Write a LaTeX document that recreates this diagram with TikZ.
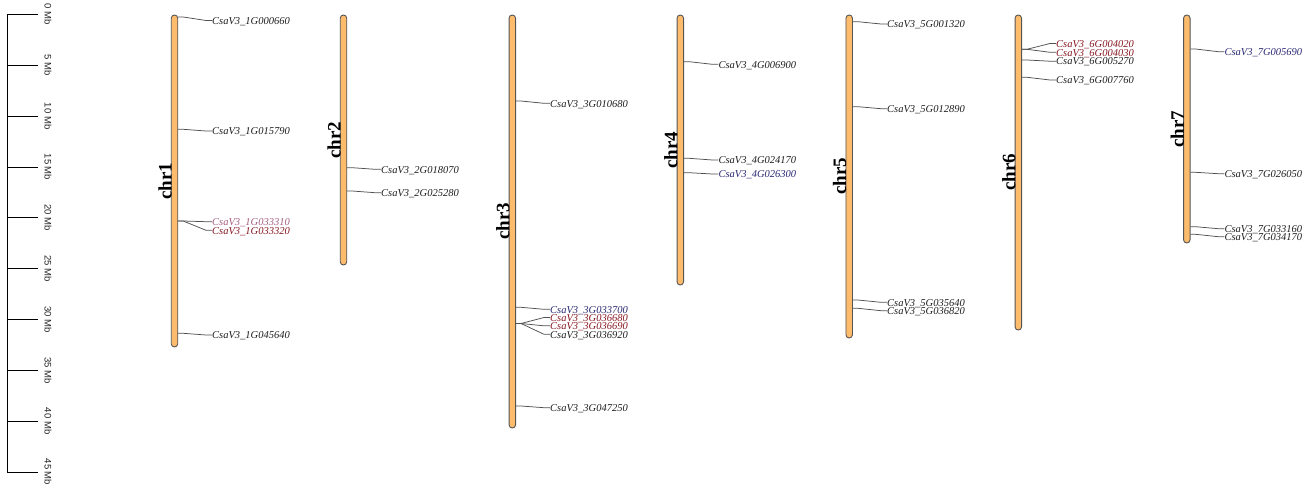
\documentclass[tikz,border=0pt]{standalone}
\usepackage{fontspec}
\setmainfont{Liberation Serif}
\setsansfont{Liberation Sans}
\definecolor{chrfill}{RGB}{253,187,108}
\definecolor{chrline}{RGB}{85,85,85}
\definecolor{conncol}{RGB}{80,80,80}
\definecolor{gblack}{RGB}{30,30,30}
\definecolor{gred}{RGB}{135,25,35}
\definecolor{gnavy}{RGB}{40,40,115}
\definecolor{gmauve}{RGB}{165,95,130}
\tikzset{
  chrom/.style={draw=chrline, fill=chrfill, line width=0.9pt, rectangle, rounded corners=3.2pt, minimum width=6.5pt, inner sep=0pt},
  chrlab/.style={font=\fontsize{19}{20}\selectfont\bfseries, rotate=90, anchor=base, inner sep=0pt},
  gene/.style={font=\fontsize{10.5}{12}\selectfont\itshape, anchor=west, inner sep=0pt, text height=7.5pt, text depth=0pt},
  conn/.style={draw=conncol, line width=0.75pt},
  tick/.style={draw=black, line width=0.8pt},
  scalelab/.style={font=\sffamily\fontsize{9.5}{10}\selectfont, rotate=-90, inner sep=0pt, text=black!85}
}
% #1 chromosome node, #2 gene node name, #3 label x, #4 y on chromosome, #5 label y, #6 colour, #7 text
\newcommand{\mkgene}[7]{%
  \node[gene, text=#6] (#2) at (#3,#5) {#7};
  \draw[conn] (#1.east |- 0,#4) -- ++(5,0) -- ([xshift=-6pt]#2.west) -- (#2.west);
}
\begin{document}
\begin{tikzpicture}[x=1pt,y=-1pt]
\useasboundingbox (0,0) rectangle (1316,487);
% scale bar
\coordinate (s0) at (7,14.5);
\coordinate (s45) at (7,472);
\draw[tick] (s0) -- (s45);
\foreach \m in {0,5,...,45}{
  \pgfmathsetmacro{\yy}{14.5+10.166*\m}
  \coordinate (t\m) at (7,\yy);
  \coordinate (te\m) at (38,\yy);
  \draw[tick] (t\m) -- (te\m);
  \node[scalelab] (sl\m) at (48,\yy) {\m{} Mb};
}
% chromosomes
\node[chrom, minimum height=332pt] (c1) at (174.5,181) {};
\node[chrom, minimum height=250pt] (c2) at (343.5,140) {};
\node[chrom, minimum height=413pt] (c3) at (512.3,221.5) {};
\node[chrom, minimum height=270pt] (c4) at (680.3,150) {};
\node[chrom, minimum height=323pt] (c5) at (849.2,176.5) {};
\node[chrom, minimum height=315pt] (c6) at (1018.3,172.5) {};
\node[chrom, minimum height=228pt] (c7) at (1186.8,129) {};
% chromosome labels
\node[chrlab] (l1) at (171.5,181) {chr1};
\node[chrlab] (l2) at (340.5,140) {chr2};
\node[chrlab] (l3) at (509.3,221.5) {chr3};
\node[chrlab] (l4) at (677.3,150) {chr4};
\node[chrlab] (l5) at (846.2,176.5) {chr5};
\node[chrlab] (l6) at (1015.3,172.5) {chr6};
\node[chrlab] (l7) at (1183.8,129) {chr7};
% genes chr1
\mkgene{c1}{g1a}{212}{17}{20.5}{gblack}{CsaV3\_1G000660}
\mkgene{c1}{g1b}{212}{129.3}{131}{gblack}{CsaV3\_1G015790}
\mkgene{c1}{g1c}{212}{221}{221.7}{gmauve}{CsaV3\_1G033310}
\mkgene{c1}{g1d}{212}{221}{230.3}{gred}{CsaV3\_1G033320}
\mkgene{c1}{g1e}{212}{333.3}{335}{gblack}{CsaV3\_1G045640}
% chr2
\mkgene{c2}{g2a}{381}{167.7}{169.3}{gblack}{CsaV3\_2G018070}
\mkgene{c2}{g2b}{381}{191}{192.7}{gblack}{CsaV3\_2G025280}
% chr3
\mkgene{c3}{g3a}{550}{101}{103.3}{gblack}{CsaV3\_3G010680}
\mkgene{c3}{g3b}{550}{307.3}{309.3}{gnavy}{CsaV3\_3G033700}
\mkgene{c3}{g3c}{550}{323.5}{317.5}{gred}{CsaV3\_3G036680}
\mkgene{c3}{g3d}{550}{323.5}{325.8}{gred}{CsaV3\_3G036690}
\mkgene{c3}{g3e}{550}{323.5}{334.3}{gblack}{CsaV3\_3G036920}
\mkgene{c3}{g3f}{550}{406}{407.7}{gblack}{CsaV3\_3G047250}
% chr4
\mkgene{c4}{g4a}{718.3}{61.7}{64.3}{gblack}{CsaV3\_4G006900}
\mkgene{c4}{g4b}{718.3}{158.3}{160}{gblack}{CsaV3\_4G024170}
\mkgene{c4}{g4c}{718.3}{172.7}{174}{gnavy}{CsaV3\_4G026300}
% chr5
\mkgene{c5}{g5a}{887}{21.7}{24}{gblack}{CsaV3\_5G001320}
\mkgene{c5}{g5b}{887}{106.7}{108.7}{gblack}{CsaV3\_5G012890}
\mkgene{c5}{g5c}{887}{300}{302.3}{gblack}{CsaV3\_5G035640}
\mkgene{c5}{g5d}{887}{308.3}{310.7}{gblack}{CsaV3\_5G036820}
% chr6
\mkgene{c6}{g6a}{1056}{49.3}{43.5}{gred}{CsaV3\_6G004020}
\mkgene{c6}{g6b}{1056}{49.3}{52.3}{gred}{CsaV3\_6G004030}
\mkgene{c6}{g6c}{1056}{60}{61.2}{gblack}{CsaV3\_6G005270}
\mkgene{c6}{g6d}{1056}{77.3}{80}{gblack}{CsaV3\_6G007760}
% chr7
\mkgene{c7}{g7a}{1224.3}{49}{51.7}{gnavy}{CsaV3\_7G005690}
\mkgene{c7}{g7b}{1224.3}{172.3}{173.7}{gblack}{CsaV3\_7G026050}
\mkgene{c7}{g7c}{1224.3}{226.7}{228.7}{gblack}{CsaV3\_7G033160}
\mkgene{c7}{g7d}{1224.3}{234.3}{236.7}{gblack}{CsaV3\_7G034170}
\end{tikzpicture}
\end{document}
